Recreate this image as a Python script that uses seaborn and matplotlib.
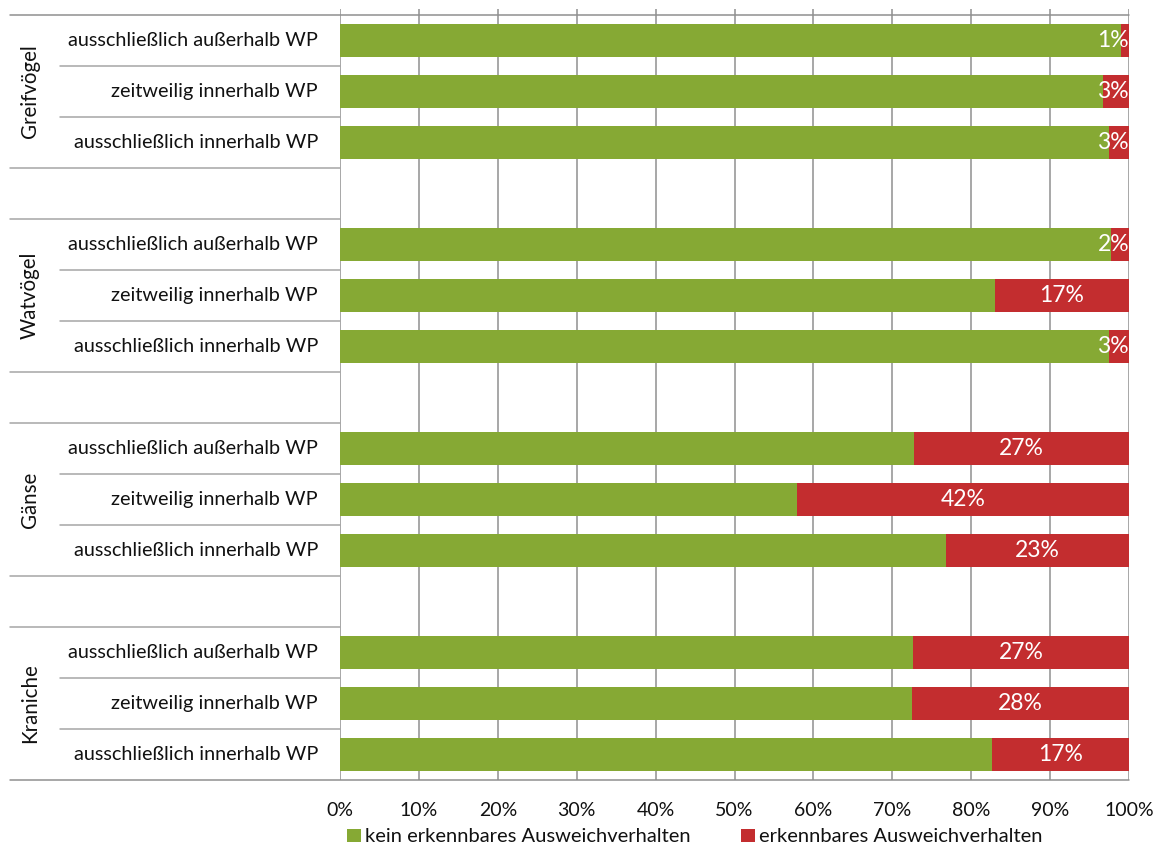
import matplotlib
matplotlib.use('Agg')
import matplotlib.pyplot as plt
from matplotlib.patches import Patch
from matplotlib.transforms import blended_transform_factory
import seaborn as sns
import pandas as pd

# ---- data ----
groups = ['Greifvögel', 'Watvögel', 'Gänse', 'Kraniche']
items = ['ausschließlich außerhalb WP', 'zeitweilig innerhalb WP', 'ausschließlich innerhalb WP']
series = ['kein erkennbares Ausweichverhalten', 'erkennbares Ausweichverhalten']
kein = [99.0, 96.7, 97.5, 97.7, 83.0, 97.5, 72.7, 57.9, 76.8, 72.6, 72.5, 82.6]
erkennbar = [1.0, 3.3, 2.5, 2.3, 17.0, 2.5, 27.3, 42.1, 23.2, 27.4, 27.5, 17.4]
value_labels = ['1%', '3%', '3%', '2%', '17%', '3%', '27%', '42%', '23%', '27%', '28%', '17%']
xticks = [0, 10, 20, 30, 40, 50, 60, 70, 80, 90, 100]
xtick_labels = ['0%', '10%', '20%', '30%', '40%', '50%', '60%', '70%', '80%', '90%', '100%']

GREEN = '#86A934'
RED = '#C32D2F'
GRID = '#8f8f8f'
SEP = '#a6a6a6'
TXT = '#111111'

sns.set_theme(style='white')
plt.rcParams['font.family'] = ['Lato', 'DejaVu Sans']

n_rows = len(groups) * 4 - 1
order = [f'r{k}' for k in range(n_rows)]
rows = []
for gi, g in enumerate(groups):
    for ii, it in enumerate(items):
        k = gi * 3 + ii
        rows.append({'row': f'r{gi * 4 + ii}', 'pos': gi * 4 + ii, 'group': g, 'item': it,
                     'kein': kein[k], 'erk': erkennbar[k], 'total': kein[k] + erkennbar[k],
                     'label': value_labels[k]})
df = pd.DataFrame(rows)

W, H = 1161, 848
fig = plt.figure(figsize=(W / 100, H / 100), dpi=100)
ax = fig.add_axes([340 / W, 68 / H, 789 / W, 771 / H])

sns.barplot(data=df, x='total', y='row', order=order, orient='h', color=RED,
            saturation=1, width=0.65, linewidth=0, ax=ax)
sns.barplot(data=df, x='kein', y='row', order=order, orient='h', color=GREEN,
            saturation=1, width=0.65, linewidth=0, ax=ax)

ax.set_xlim(0, 100)
ax.set_ylim(n_rows - 0.5, -0.5 - 6 / 51)
ax.set_xlabel('')
ax.set_ylabel('')
ax.set_yticks([])
ax.set_xticks(xticks)
ax.set_xticklabels(xtick_labels, fontsize=14, color=TXT)
ax.tick_params(axis='x', length=0, pad=16)
for s in ax.spines.values():
    s.set_visible(False)

for x in xticks:
    ax.axvline(x, color=GRID, lw=1.1, zorder=0.5)

# row separators
tr = blended_transform_factory(ax.transAxes, ax.transData)
left_long = (10 - 340) / 789
left_short = (60 - 340) / 789
ax.plot([left_long, 1], [-0.5, -0.5], transform=tr, color=GRID, lw=1.1, clip_on=False, zorder=3)
ax.plot([left_long, 1], [n_rows - 0.5, n_rows - 0.5], transform=tr, color=GRID, lw=1.1, clip_on=False, zorder=3)
for gi in range(len(groups)):
    base = gi * 4
    for b in [base + 2.5, base + 3.5]:
        if b < n_rows - 0.5:
            ax.plot([left_long, 0], [b, b], transform=tr, color=SEP, lw=1.1, clip_on=False)
    for b in [base + 0.5, base + 1.5]:
        ax.plot([left_short, 0], [b, b], transform=tr, color=SEP, lw=1.1, clip_on=False)

# labels
for _, r in df.iterrows():
    ax.text((318 - 340) / 789, r['pos'], r['item'], transform=tr, ha='right', va='center',
            fontsize=14.3, color=TXT)
    xc = min(r['kein'] + r['erk'] / 2, 98.0)
    ax.text(xc, r['pos'], r['label'], ha='center', va='center', fontsize=16.5, color='white')
for gi, g in enumerate(groups):
    ax.text((30 - 340) / 789, gi * 4 + 1, g, transform=tr, ha='center', va='center',
            rotation=90, fontsize=14.8, color=TXT)

handles = [Patch(facecolor=GREEN, edgecolor='none'), Patch(facecolor=RED, edgecolor='none')]
fig.legend(handles, series, loc='center', bbox_to_anchor=(695 / W, 1 - 837 / H), ncol=2,
           frameon=False, fontsize=14.5, handlelength=0.7, handleheight=0.65,
           handletextpad=0.2, columnspacing=2.5, labelcolor=TXT, borderaxespad=0, borderpad=0)

fig.savefig('out.png', dpi=100)
